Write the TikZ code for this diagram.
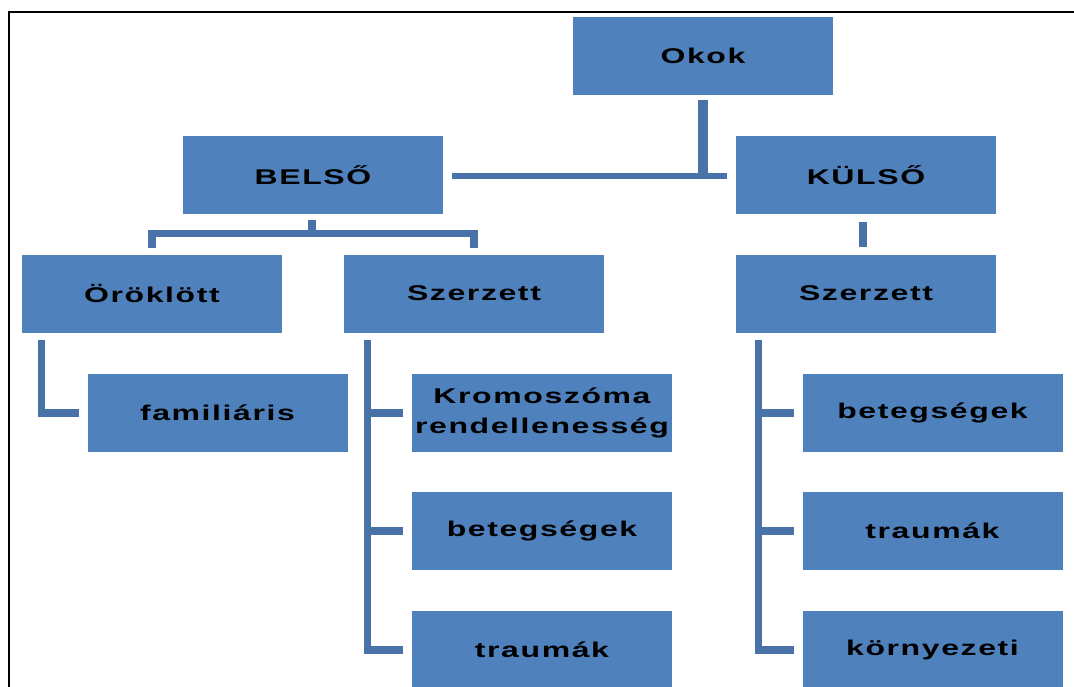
\documentclass[tikz,border=0pt]{standalone}
\usepackage{fontspec}
\setmainfont{Liberation Sans}[LetterSpace=5]
\usetikzlibrary{calc}
\definecolor{boxblue}{RGB}{79,129,189}
\definecolor{linkblue}{RGB}{72,114,168}
\newcommand{\wide}[1]{\scalebox{1.5}[1]{#1}}
\tikzset{
  item/.style={rectangle, fill=boxblue, draw=none, minimum width=195pt,
    minimum height=58.5pt, inner sep=0pt, align=center,
    font=\fontsize{16}{22}\selectfont\bfseries, text=black},
  link/.style={draw=linkblue, line width=5.6pt, line join=miter},
  frame/.style={draw=black, line width=1.6pt}
}
\begin{document}
\begin{tikzpicture}[x=0.75pt, y=-0.75pt]
  \clip (0,0) rectangle (1074,686);
  \fill[white] (0,0) rectangle (1074,686);
  % outer frame
  \draw[frame] (9,690) -- (9,12) -- (1080,12);

  % boxes
  \node[item] (okok)  at (703,56)    {\wide{Okok}};
  \node[item] (belso) at (313,175)   {\wide{BELSŐ}};
  \node[item] (kulso) at (866,175)   {\wide{KÜLSŐ}};
  \node[item] (orok)  at (152,293.5) {\wide{Öröklött}};
  \node[item] (szl)   at (474,293.5) {\wide{Szerzett}};
  \node[item] (szr)   at (866,293.5) {\wide{Szerzett}};
  \node[item] (fam)   at (217.5,413) {\wide{familiáris}};
  \node[item] (krom)  at (542,413)   {\wide{Kromoszóma}\\\wide{rendellenesség}};
  \node[item] (betl)  at (542,531)   {\wide{betegségek}};
  \node[item] (traul) at (542,650)   {\wide{traumák}};
  \node[item] (betr)  at (932.5,413) {\wide{betegségek}};
  \node[item] (traur) at (932.5,531) {\wide{traumák}};
  \node[item] (korny) at (932.5,650) {\wide{környezeti}};

  % top level: Okok to BELSŐ / KÜLSŐ
  \draw[link, line width=7pt] ($(okok.south)+(0,5)$) -- ($(okok.south)+(0,80)$);
  \draw[link, line width=4pt] ($(belso.east)+(9,1)$) -- ($(kulso.west)+(-9,1)$);

  % BELSŐ bracket
  \draw[link] ($(belso.south)+(-1,6)$) -- ($(belso.south)+(-1,19)$);
  \draw[link] ($(orok.north)+(0,-6)$) -- ($(orok.north)+(0,-21)$)
    -- ($(szl.north)+(0,-21)$) -- ($(szl.north)+(0,-6)$);

  % KÜLSŐ to Szerzett
  \draw[link] ($(kulso.south)+(-3,8)$) -- ($(szr.north)+(-3,-7)$);

  % Öröklött branch
  \draw[link] ($(orok.south west)+(20,7)$) |- ($(fam.west)+(-8,0)$);

  % spines of the two Szerzett branches
  \coordinate (spl) at ($(szl.south west)+(24,7)$);
  \coordinate (spr) at ($(szr.south west)+(23,7)$);

  % Szerzett (belső) branches
  \draw[link] (spl) |- ($(traul.west)+(-9,0)$);
  \draw[link] (spl |- krom.west) -- ($(krom.west)+(-9,0)$);
  \draw[link] (spl |- betl.west) -- ($(betl.west)+(-9,0)$);

  % Szerzett (külső) branches
  \draw[link] (spr) |- ($(korny.west)+(-8,0)$);
  \draw[link] (spr |- betr.west) -- ($(betr.west)+(-8,0)$);
  \draw[link] (spr |- traur.west) -- ($(traur.west)+(-8,0)$);
\end{tikzpicture}
\end{document}
